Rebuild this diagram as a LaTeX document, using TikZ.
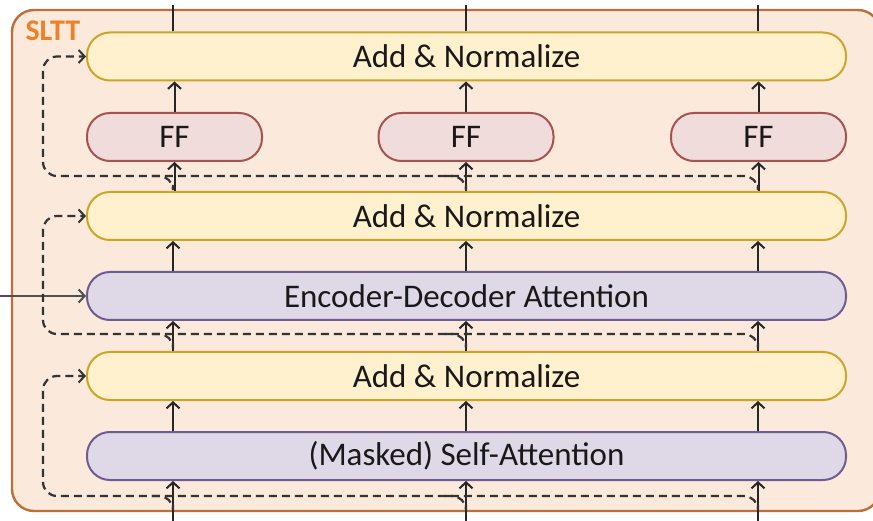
\documentclass[tikz,border=0pt]{standalone}
\usepackage{fontspec}
\setmainfont{Carlito}
\usepackage{tikz}
\usetikzlibrary{positioning, arrows.meta}
\tikzstyle{slttCanvas} = [x = 1pt, y = -1pt]
\definecolor{outerFill}{RGB}{251,233,220}
\definecolor{outerBorder}{RGB}{186,112,60}
\definecolor{labelColor}{RGB}{240,128,40}
\definecolor{normFill}{RGB}{255,241,205}
\definecolor{normBorder}{RGB}{204,164,40}
\definecolor{attnFill}{RGB}{222,216,231}
\definecolor{attnBorder}{RGB}{110,92,142}
\definecolor{ffFill}{RGB}{241,220,220}
\definecolor{ffBorder}{RGB}{168,82,78}
\definecolor{inputColor}{RGB}{80,80,80}
\tikzstyle{outerStyle} = [draw=outerBorder, fill=outerFill, line width = 2.4pt, rounded corners = 22pt]
\tikzstyle{pillStyle} = [rectangle, rounded corners = 23pt, minimum height = 48pt, inner sep = 0pt, line width = 2pt, font = \fontsize{33}{38}\selectfont, text = black!90]
\tikzstyle{addNormStyle} = [pillStyle, draw = normBorder, fill = normFill, minimum width = 759pt]
\tikzstyle{attnStyle} = [pillStyle, draw = attnBorder, fill = attnFill, minimum width = 759pt]
\tikzstyle{ffStyle} = [pillStyle, draw = ffBorder, fill = ffFill, minimum width = 175pt]
\tikzstyle{flowArrow} = [-{Straight Barb[length = 6pt, width = 13pt, line width = 2pt]}, line width = 2pt, black!85]
\tikzstyle{flowLine} = [line width = 2pt, black!85]
\tikzstyle{inputArrow} = [-{Straight Barb[length = 6pt, width = 13pt, line width = 2pt]}, line width = 2pt, inputColor]
\tikzstyle{residualLine} = [dash pattern = on 8pt off 5pt, line width = 2.2pt, black!80, rounded corners = 14pt]
\tikzstyle{residualArrow} = [residualLine, -{Straight Barb[length = 6pt, width = 13pt, line width = 2pt]}]
% residual from a column at a level into the left side of a box
\newcommand{\residual}[3]{\draw [residualArrow] (#1 |- 0,#2 + 9) -- (#1 |- 0,#2) -- (43,#2) -- (43,0 |- #3.west) -- (#3.west);}
\newcommand{\residualStub}[2]{\draw [residualLine] (#1 |- 0,#2 + 9) -- (#1 |- 0,#2) -- ([xshift = -22pt]#1 |- 0,#2);}
\begin{document}
\begin{tikzpicture}[slttCanvas]
  \useasboundingbox (0,0) rectangle (873,521);
  \draw [outerStyle] (12,10) rectangle (880,511);
  \node [anchor = base west, text = labelColor, font = \fontsize{30}{34}\selectfont\bfseries] (slttLabel) at (22,41) {SLTT};

  \coordinate (colA) at (173,0);
  \coordinate (colB) at (466,0);
  \coordinate (colC) at (758,0);

  % boxes
  \node [attnStyle] (selfAttn) at (466.5,456) {(Masked) Self-Attention};
  \node [addNormStyle] (addNormA) at (466.5,376) {Add \& Normalize};
  \node [attnStyle] (encDec) at (466.5,296) {Encoder-Decoder Attention};
  \node [addNormStyle] (addNormB) at (466.5,216) {Add \& Normalize};
  \node [ffStyle] (ffA) at (174.5,137) {FF};
  \node [ffStyle] (ffB) at (466,137) {FF};
  \node [ffStyle] (ffC) at (758.5,137) {FF};
  \node [addNormStyle] (addNormC) at (466.5,56.5) {Add \& Normalize};

  % vertical flow
  \foreach \col in {colA, colB, colC} {
    \draw [flowArrow] (\col |- 0,521) -- (selfAttn.south -| \col);
    \draw [flowArrow] (selfAttn.north -| \col) -- (addNormA.south -| \col);
    \draw [flowArrow] (addNormA.north -| \col) -- (encDec.south -| \col);
    \draw [flowArrow] (encDec.north -| \col) -- (addNormB.south -| \col);
    \draw [flowLine] (addNormC.north -| \col) -- (\col |- 0,5);
  }
  \draw [flowArrow] (addNormB.north -| ffA) -- (ffA.south);
  \draw [flowArrow] (addNormB.north -| ffB) -- (ffB.south);
  \draw [flowArrow] (addNormB.north -| ffC) -- (ffC.south);
  \draw [flowArrow] (ffA.north) -- (addNormC.south -| ffA);
  \draw [flowArrow] (ffB.north) -- (addNormC.south -| ffB);
  \draw [flowArrow] (ffC.north) -- (addNormC.south -| ffC);

  % encoder input
  \coordinate (encInput) at (0,296);
  \draw [inputArrow] (encInput) -- (encDec.west);

  % residual connections
  \residual{colC}{496}{addNormA}
  \residualStub{colB}{496}
  \residualStub{colA}{496}
  \residual{colC}{334}{addNormB}
  \residualStub{colB}{334}
  \residualStub{colA}{334}
  \residual{colC}{176}{addNormC}
  \residualStub{colB}{176}
  \residualStub{colA}{176}
\end{tikzpicture}
\end{document}
